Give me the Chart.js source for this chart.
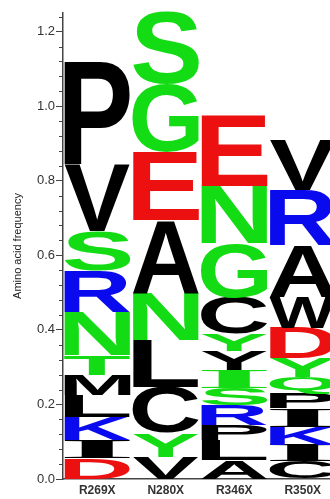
<!DOCTYPE html>
<html>
<head>
<meta charset="utf-8">
<script src="https://cdn.jsdelivr.net/npm/chart.js@4.4.1/dist/chart.umd.min.js"></script>
<style>
  html, body { margin: 0; padding: 0; background: #fff; overflow: hidden; }
  #wrap { width: 340px; height: 499px; }
</style>
</head>
<body>
<div id="wrap"><canvas id="logo"></canvas></div>
<script>
// positions on the x axis
var positions = ['R269X', 'N280X', 'R346X', 'R350X'];

// letters of each stack, bottom to top, with their heights (frequency)
var r269xLetters = ['D', 'I', 'K', 'L', 'M', 'T', 'N', 'R', 'S', 'V', 'P'];
var r269xHeights = [0.056, 0.049, 0.062, 0.058, 0.055, 0.052, 0.117, 0.111, 0.105, 0.177, 0.277];

var n280xLetters = ['V', 'Y', 'C', 'L', 'N', 'A', 'E', 'G', 'S'];
var n280xHeights = [0.060, 0.063, 0.124, 0.126, 0.127, 0.194, 0.183, 0.183, 0.195];

var r346xLetters = ['A', 'L', 'P', 'R', 'S', 'I', 'Y', 'Y', 'C', 'G', 'N', 'E'];
var r346xHeights = [0.050, 0.055, 0.040, 0.053, 0.046, 0.048, 0.052, 0.046, 0.097, 0.145, 0.155, 0.190];

var r350xLetters = ['C', 'I', 'K', 'I', 'P', 'Q', 'Y', 'D', 'W', 'A', 'R', 'V'];
var r350xHeights = [0.047, 0.043, 0.050, 0.050, 0.040, 0.043, 0.051, 0.081, 0.083, 0.140, 0.147, 0.135];

var yTicks = [0, 0.2, 0.4, 0.6, 0.8, 1.0, 1.2];

var letterSets = [r269xLetters, n280xLetters, r346xLetters, r350xLetters];
var heightSets = [r269xHeights, n280xHeights, r346xHeights, r350xHeights];

// colours
var GREEN = '#14dc14', BLUE = '#0a0aee', RED = '#ec1010', BLACK = '#000000';
var colorOf = { S: GREEN, G: GREEN, N: GREEN, T: GREEN, Y: GREEN, Q: GREEN,
                R: BLUE, K: BLUE, H: BLUE, D: RED, E: RED };
// a couple of letters in the picture break the usual scheme
var colorOverride = { '2-5': GREEN, '2-6': BLACK };

// one dataset per stack level
var levels = Math.max.apply(null, letterSets.map(function(l) { return l.length; }));
var datasets = [];
for (var lv = 0; lv < levels; lv++) {
    datasets.push({
        data: heightSets.map(function(h) { return h[lv] !== undefined ? h[lv] : 0; }),
        letters: letterSets.map(function(l) { return l[lv] || ''; }),
        backgroundColor: 'rgba(0,0,0,0)',
        borderWidth: 0,
        categoryPercentage: 1.0,
        barPercentage: 1.0
    });
}

var letterPlugin = {
    id: 'letters',
    afterDatasetsDraw: function(chart) {
        var ctx = chart.ctx;
        ctx.save();
        ctx.beginPath();
        ctx.rect(chart.chartArea.left, 0, chart.width, chart.chartArea.bottom);
        ctx.clip();
        chart.data.datasets.forEach(function(ds, di) {
            var meta = chart.getDatasetMeta(di);
            meta.data.forEach(function(bar, ci) {
                var ch = ds.letters[ci];
                if (!ch) return;
                var p = bar.getProps(['x', 'y', 'base', 'width'], true);
                var top = Math.min(p.y, p.base), h = Math.abs(p.base - p.y);
                var w = p.width - 2;
                if (h < 1) return;
                var font = ch === 'I' ? 'bold 100px "Liberation Serif"' : 'bold 100px "Liberation Sans", Arial';
                ctx.font = font;
                var m = ctx.measureText(ch);
                var gw = m.actualBoundingBoxLeft + m.actualBoundingBoxRight;
                var gh = m.actualBoundingBoxAscent + m.actualBoundingBoxDescent;
                ctx.save();
                ctx.translate(p.x - w / 2, top);
                ctx.scale(w / gw, h / gh);
                ctx.fillStyle = colorOverride[ci + '-' + di] || colorOf[ch] || BLACK;
                ctx.textBaseline = 'alphabetic';
                ctx.textAlign = 'left';
                ctx.fillText(ch, m.actualBoundingBoxLeft, m.actualBoundingBoxAscent);
                ctx.restore();
            });
        });
        ctx.restore();
    },
    afterDraw: function(chart) {
        // minor ticks every 0.04
        var ctx = chart.ctx, y = chart.scales.y, left = chart.chartArea.left;
        ctx.save();
        ctx.strokeStyle = '#444';
        ctx.lineWidth = 1;
        for (var i = 0; i <= 31; i++) {
            if (i % 5 === 0) continue;
            var py = Math.round(y.getPixelForValue(i * 0.04)) + 0.5;
            ctx.beginPath();
            ctx.moveTo(left - 4, py);
            ctx.lineTo(left, py);
            ctx.stroke();
        }
        ctx.restore();
    }
};

new Chart(document.getElementById('logo'), {
    type: 'bar',
    data: { labels: positions, datasets: datasets },
    plugins: [letterPlugin],
    options: {
        responsive: true,
        maintainAspectRatio: false,
        animation: false,
        layout: { padding: { top: 13, right: 3, left: 0, bottom: 0 } },
        plugins: { legend: { display: false }, tooltip: { enabled: false } },
        scales: {
            x: {
                stacked: true,
                grid: { display: false, drawTicks: false },
                border: { display: true, color: '#444', width: 1.5 },
                afterFit: function(scale) { scale.height = 20; },
                ticks: {
                    padding: 4,
                    color: '#333',
                    font: { family: 'Liberation Sans, Arial', size: 12, weight: 'bold' }
                }
            },
            y: {
                stacked: true,
                min: 0,
                max: 1.25,
                afterBuildTicks: function(scale) {
                    scale.ticks = yTicks.map(function(v) { return { value: v }; });
                },
                afterFit: function(scale) { scale.width = 63; },
                grid: { drawOnChartArea: false, tickLength: 7, color: '#444' },
                border: { display: true, color: '#444', width: 1.5 },
                ticks: {
                    padding: 1,
                    color: '#333',
                    font: { family: 'Liberation Sans, Arial', size: 13 },
                    callback: function(v) { return v.toFixed(1); }
                },
                title: {
                    display: true,
                    text: 'Amino acid frequency',
                    color: '#222',
                    padding: { top: 11, bottom: 0 },
                    font: { family: 'Liberation Sans, Arial', size: 11 }
                }
            }
        }
    }
});
</script>
</body>
</html>
